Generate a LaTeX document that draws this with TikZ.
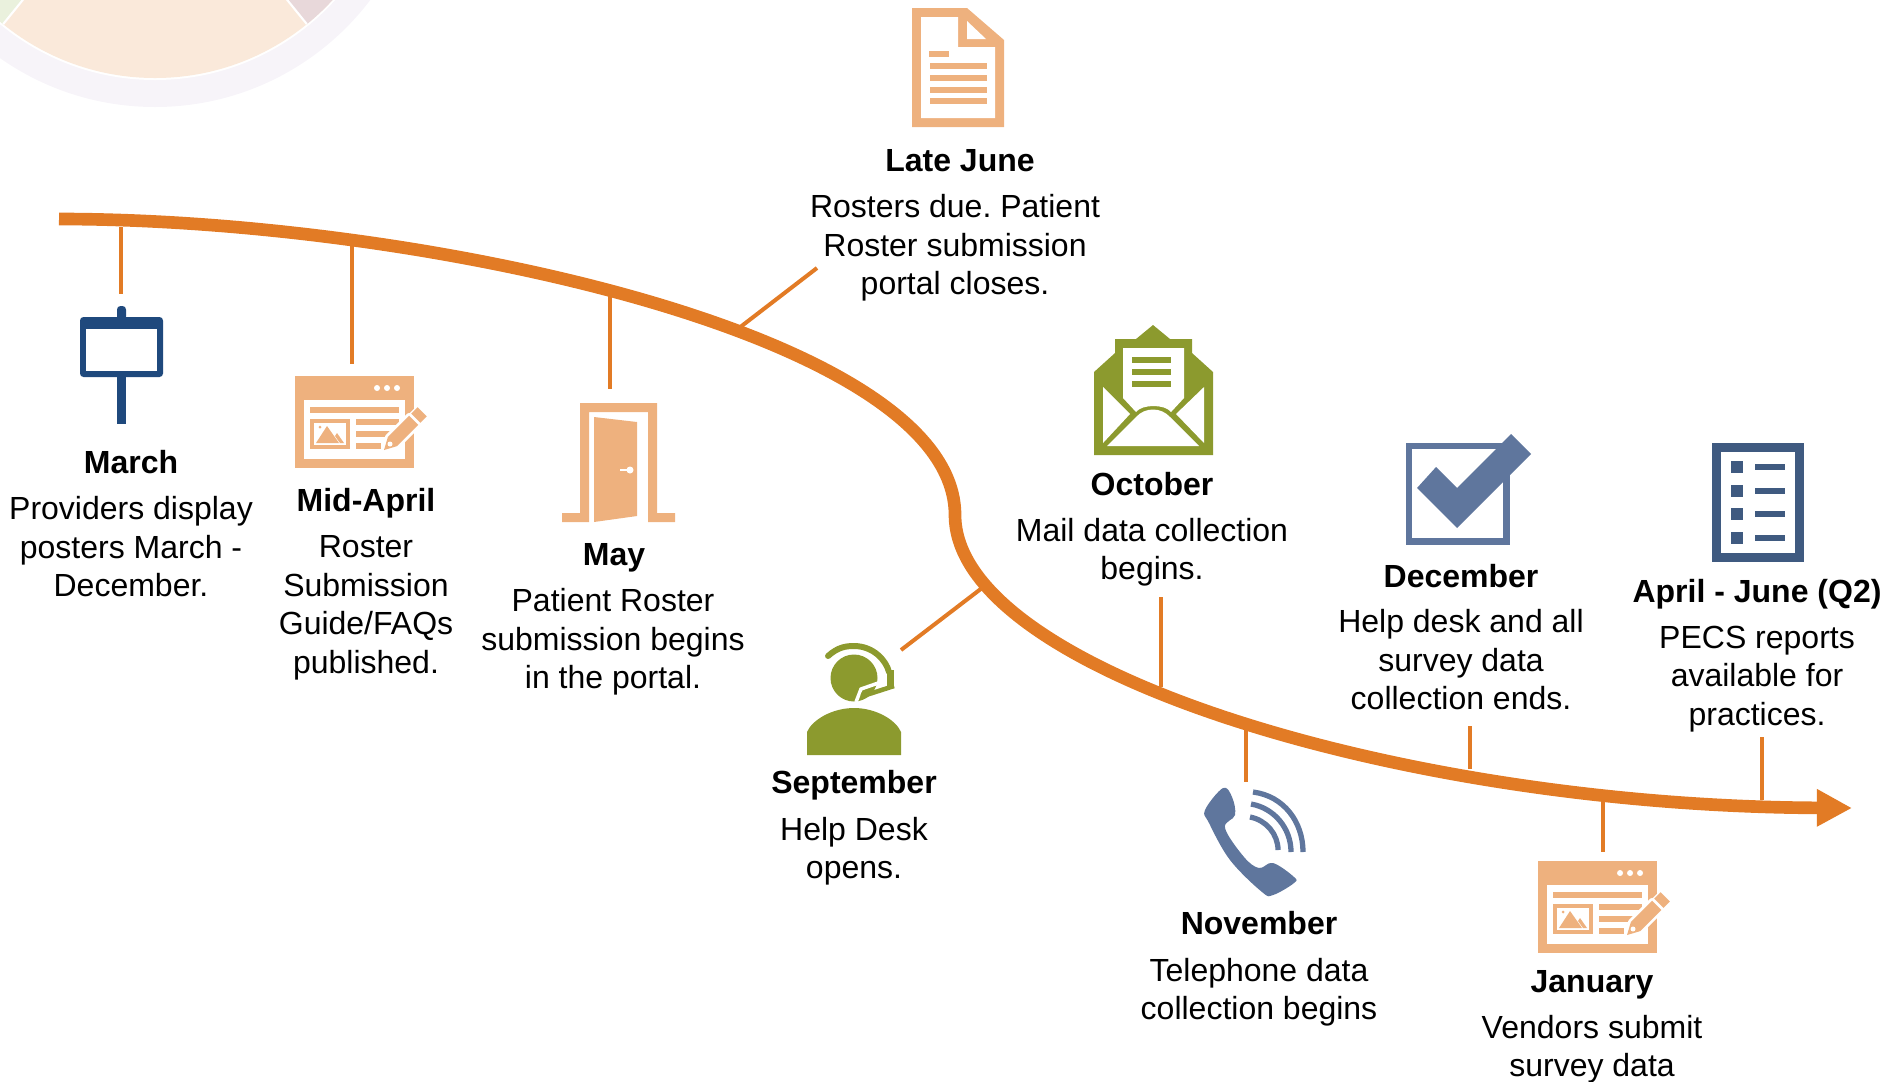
\documentclass[tikz,border=0pt]{standalone}
\usepackage{fontspec}
\setmainfont{Liberation Sans}
\frenchspacing
\usetikzlibrary{arrows.meta}
\definecolor{lineorange}{HTML}{E27B25}
\definecolor{iconpeach}{HTML}{EEB17E}
\definecolor{iconnavy}{HTML}{1F497D}
\definecolor{iconolive}{HTML}{8C9A2E}
\definecolor{iconslate}{HTML}{5F769D}
\definecolor{icondeep}{HTML}{3F5A80}
\definecolor{wheelring}{HTML}{F7F4F9}
\definecolor{wheelpeach}{HTML}{FAE9DA}
\definecolor{wheelpink}{HTML}{E8D8DA}
\definecolor{wheelgreen}{HTML}{EAF1DD}
\tikzset{
  evttitle/.style={inner sep=0pt,text height=6.6pt,text depth=0pt,font=\fontsize{9.1}{10.95}\selectfont\bfseries},
  evtbody/.style={inner sep=0pt,align=center,font=\fontsize{9.1}{10.95}\selectfont},
  stem/.style={line width=1.14pt,lineorange},
  pics/webform/.style={code={
    \fill[iconpeach] (0,0) rectangle (119,92);
    \fill[white] (9,24) rectangle (110,83);
    \fill[white] (82,12) circle (3) (92,12) circle (3) (102,12) circle (3);
    \fill[iconpeach] (15,31) rectangle (104,37);
    \fill[iconpeach] (15,43) rectangle (55,73);
    \fill[white] (19,47) rectangle (51,69);
    \fill[iconpeach] (21,67)--(32,50)--(44,67)--cycle;
    \fill[iconpeach] (42,57)--(49,67)--(45,67)--(40,60)--cycle;
    \fill[iconpeach] (25,51) circle (1.5);
    \fill[iconpeach] (61,43) rectangle (104,49);
    \fill[iconpeach] (61,55) rectangle (95,61);
    \fill[iconpeach] (61,67) rectangle (86,73);
    \draw[white,line width=1.6pt,line join=round] (89,74)--(102.1,70.1)--(123.3,48.9)--(114.1,39.7)--(92.9,60.9)--cycle;
    \fill[iconpeach] (89,74)--(102.1,70.1)--(123.3,48.9)--(114.1,39.7)--(92.9,60.9)--cycle;
    \draw[white,line width=0.8pt,line join=round] (125.4,46.8)--(131.8,40.4)--(122.6,31.2)--(116.2,37.6)--cycle;
    \fill[iconpeach] (125.4,46.8)--(131.8,40.4)--(122.6,31.2)--(116.2,37.6)--cycle;
    \fill[white] (95,68) circle (2.5);
  }},
}
\begin{document}
\begin{tikzpicture}[x=0.01cm,y=-0.01cm]
  \useasboundingbox (0,0) rectangle (1889,1081);

  \begin{scope}
    \clip (0,0) rectangle (1889,1081);
    \fill[wheelring] (155,-163) circle (270);
    \fill[white] (155,-163) circle (243);
    \begin{scope}
      \clip (155,-163) circle (241);
      \fill[wheelpeach] (-100,-200) rectangle (420,100);
      \fill[wheelpink] (155,-163)--(340,65)--(420,65)--(420,-163)--cycle;
      \fill[wheelgreen] (155,-163)--(-30,65)--(-100,65)--(-100,-163)--cycle;
      \draw[white,line width=0.6pt] (340,65)--(155,-163)--(-30,65);
    \end{scope}
  \end{scope}

  \coordinate (linestart) at (59,219);
  \coordinate (linebend) at (955,515);
  \coordinate (lineend) at (1852,808);
  \draw[line width=3.6pt,lineorange,-{Triangle[length=10pt,width=10pt]}]
    (linestart) .. controls (420,219) and (955,335) .. (linebend)
    .. controls (955,670) and (1400,806) .. (lineend);

  \coordinate (marchA) at (121,227);
  \coordinate (marchB) at (121,294);
  \draw[stem] (marchA)--(marchB);
  \coordinate (aprilA) at (352,245);
  \coordinate (aprilB) at (352,364);
  \draw[stem] (aprilA)--(aprilB);
  \coordinate (mayA) at (610,296);
  \coordinate (mayB) at (610,389);
  \draw[stem] (mayA)--(mayB);
  \coordinate (juneA) at (739,328);
  \coordinate (juneB) at (817,268);
  \draw[stem] (juneA)--(juneB);
  \coordinate (septA) at (982,588);
  \coordinate (septB) at (901,650);
  \draw[stem] (septA)--(septB);
  \coordinate (octA) at (1161,687);
  \coordinate (octB) at (1161,597);
  \draw[stem] (octA)--(octB);
  \coordinate (novA) at (1246,726);
  \coordinate (novB) at (1246,782);
  \draw[stem] (novA)--(novB);
  \coordinate (decA) at (1470,769);
  \coordinate (decB) at (1470,726);
  \draw[stem] (decA)--(decB);
  \coordinate (janA) at (1603,798);
  \coordinate (janB) at (1603,852);
  \draw[stem] (janA)--(janB);
  \coordinate (qtwoA) at (1762,800);
  \coordinate (qtwoB) at (1762,737);
  \draw[stem] (qtwoA)--(qtwoB);

  \fill[iconnavy,rounded corners=1pt] (80,317) rectangle (163,377);
  \fill[white] (86,329) rectangle (157,371);
  \fill[iconnavy,rounded corners=1pt] (117,320)--(117,306)--(126,306)--(126,320)--cycle;
  \fill[iconnavy] (117,377) rectangle (126,424);

  \pic at (295,376) {webform};

  \fill[iconpeach] (580,403)--(657,403)--(657,513)--(675,513)--(675,522)--(648,522)--(648,412)--(589,412)--(589,522)--(562,522)--(562,513)--(580,513)--cycle;
  \fill[iconpeach] (594,417)--(637,422)--(637,516)--(594,522)--cycle;
  \fill[white] (630,470) circle (3.5);
  \draw[white,line width=0.7pt] (620,470)--(630,470);

  \fill[iconpeach] (912,8)--(967,8)--(1004,40)--(1004,127)--(912,127)--cycle;
  \fill[white] (921,17)--(958,17)--(958,47)--(995,47)--(995,118)--(921,118)--cycle;
  \fill[white] (967,21)--(986,39)--(967,39)--cycle;
  \fill[iconpeach] (929,51) rectangle (949,57);
  \fill[iconpeach] (930,63) rectangle (987,69);
  \fill[iconpeach] (930,75) rectangle (987,81);
  \fill[iconpeach] (930,87) rectangle (987,93);
  \fill[iconpeach] (930,98) rectangle (987,104);

  \fill[iconolive] (854,678) circle (23.5);
  \draw[iconolive,line width=1.7pt,line cap=round] (828,656) .. controls (838,647) and (846,646) .. (854,646) .. controls (873,646) and (886,660) .. (889,672);
  \fill[iconolive] (887,670) rectangle (894,687);
  \draw[white,line width=1pt] (884,681)--(861,689)--(856,702);
  \draw[iconolive,line width=1.3pt] (894,686)--(866,695);
  \fill[iconolive] (864,695) circle (3.5);
  \fill[iconolive] (807,755)--(807,732) .. controls (812,720) and (832,708) .. (854,708) .. controls (876,708) and (896,720) .. (901,732)--(901,755)--cycle;

  \fill[iconolive] (1153,325)--(1170,339)--(1192,339)--(1192,353)--(1213,372)--(1213,455)--(1094,455)--(1094,372)--(1115,353)--(1115,339)--(1136,339)--cycle;
  \fill[white] (1123,348)--(1184,348)--(1184,398)--(1171,412) .. controls (1165,404) and (1142,404) .. (1136,412)--(1123,398)--cycle;
  \fill[iconolive] (1132,357) rectangle (1171,363);
  \fill[iconolive] (1132,369) rectangle (1171,375);
  \fill[iconolive] (1132,381) rectangle (1171,387);
  \fill[white] (1103,387)--(1130,414)--(1103,443)--cycle;
  \fill[white] (1204,387)--(1176,414)--(1204,443)--cycle;
  \fill[white] (1107,446)--(1136,417) .. controls (1145,407) and (1161,407) .. (1170,417)--(1199,446)--cycle;

  \fill[iconslate] plot[smooth cycle,tension=0.6] coordinates {(1223,788) (1205,810) (1209,823) (1230,860) (1262,892) (1273,895) (1294,883) (1294,877) (1273,863) (1259,868) (1244,857) (1225,828) (1235,815) (1232,797)};
  \draw[iconslate,line width=1.5pt] (1253,792) .. controls (1284,796) and (1303,822) .. (1303,852);
  \draw[iconslate,line width=1.5pt] (1251,804) .. controls (1274,808) and (1291,828) .. (1291,852);
  \draw[iconslate,line width=1.5pt] (1250,817) .. controls (1266,820) and (1278,834) .. (1278,850);

  \fill[iconslate] (1406,443) rectangle (1510,545);
  \fill[white] (1412,449) rectangle (1503,538);
  \fill[iconslate] (1417,488)--(1436,467)--(1457,488)--(1511,434)--(1531,454)--(1457,528)--cycle;

  \pic at (1538,861) {webform};

  \fill[icondeep] (1712,443) rectangle (1804,562);
  \fill[white] (1721,452) rectangle (1795,553);
  \fill[icondeep] (1731,461) rectangle (1743,473);
  \fill[icondeep] (1731,485) rectangle (1743,497);
  \fill[icondeep] (1731,508) rectangle (1743,520);
  \fill[icondeep] (1731,532) rectangle (1743,544);
  \fill[icondeep] (1755,464) rectangle (1785,470);
  \fill[icondeep] (1755,488) rectangle (1785,494);
  \fill[icondeep] (1755,511) rectangle (1785,517);
  \fill[icondeep] (1755,535) rectangle (1785,541);

  \node[evttitle] (marchtitle) at (131,462) {March};
  \node[evtbody] (marchbody) at (131,547) {Providers display\\posters March -\\December.};
  \node[evttitle] (apriltitle) at (366,500) {Mid-April};
  \node[evtbody] (aprilbody) at (366,608) {Roster\\Submission\\Guide/FAQs\\published.};
  \node[evttitle] (maytitle) at (614,554) {May};
  \node[evtbody] (maybody) at (613,642) {Patient Roster\\submission begins\\in the portal.};
  \node[evttitle] (junetitle) at (960,160) {Late June};
  \node[evtbody] (junebody) at (955,248) {Rosters due. Patient\\Roster submission\\portal closes.};
  \node[evttitle] (septtitle) at (854,782) {September};
  \node[evtbody] (septbody) at (854,851) {Help Desk\\opens.};
  \node[evttitle] (octtitle) at (1152,484) {October};
  \node[evtbody] (octbody) at (1152,552) {Mail data collection\\begins.};
  \node[evttitle] (novtitle) at (1259,923) {November};
  \node[evtbody] (novbody) at (1259,992) {Telephone data\\collection begins};
  \node[evttitle] (dectitle) at (1461,576) {December};
  \node[evtbody] (decbody) at (1461,660) {Help desk and all\\survey data\\collection ends.};
  \node[evttitle] (jantitle) at (1592,981) {January};
  \node[evtbody] (janbody) at (1592,1049) {Vendors submit\\survey data};
  \node[evttitle] (qtwotitle) at (1757,591) {April - June (Q2)};
  \node[evtbody] (qtwobody) at (1757,679) {PECS reports\\available for\\practices.};
\end{tikzpicture}
\end{document}
